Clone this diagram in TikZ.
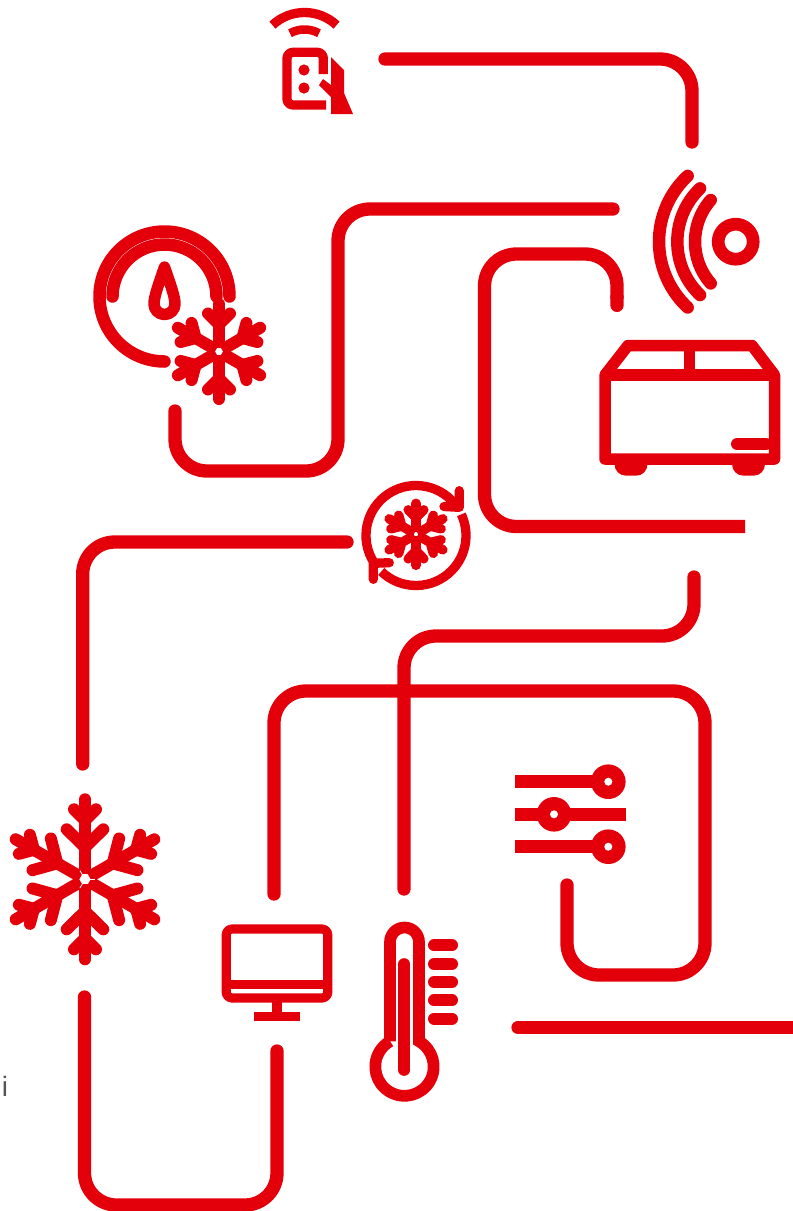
\documentclass[tikz,border=0pt]{standalone}
\usepackage{fontspec}
\setsansfont{Liberation Sans}
\usetikzlibrary{arrows.meta}
\definecolor{brandred}{HTML}{E3000B}
\definecolor{smallgrey}{HTML}{555555}
\tikzset{
  wire/.style={draw=brandred,line width=13.3pt,line cap=round,line join=round,rounded corners=32pt},
  wirecut/.style={draw=brandred,line width=13.3pt,line cap=butt,rounded corners=32pt,{Round Cap[]}-},
  icon/.style={draw=brandred,line width=#1,line cap=round,line join=round},
  iconflat/.style={draw=brandred,line width=#1,line cap=butt,line join=round},
  solidred/.style={fill=brandred,draw=none},
  holewhite/.style={fill=white,draw=none}
}
\newcommand{\flakeBig}[3]{%
  \foreach \ang in {0,60,...,300}{
    \begin{scope}[shift={(#1,#2)},rotate=\ang]
      \draw[iconflat=#3] (0,-5) -- (0,-74);
      \draw[icon=#3] (0,-58) -- (0,-80);
      \draw[icon=#3] (0,-59) -- (-11,-70);
      \draw[icon=#3] (0,-59) -- (11,-70);
      \draw[icon=#3] (0,-32) -- (-18.3,-50);
      \draw[icon=#3] (0,-32) -- (18.3,-50);
    \end{scope}}
  \foreach \ang in {30,150,270}{
    \begin{scope}[shift={(#1,#2)},rotate=\ang]
      \draw[white,line width=.8pt] (0,-5) -- (0,-10);
    \end{scope}}
}
\newcommand{\flakeOne}[8]{% x y hole tip brstart broff brR lw
  \foreach \ang in {0,60,...,300}{
    \begin{scope}[shift={(#1,#2)},rotate=\ang]
      \draw[iconflat=#8] (0,-#3) -- (0,-#5);
      \draw[icon=#8] (0,-#5) -- (0,-#4);
      \draw[icon=#8] (0,-#5) -- (-#6,-#7);
      \draw[icon=#8] (0,-#5) -- (#6,-#7);
    \end{scope}}
}
\begin{document}
\begin{tikzpicture}[x=1pt,y=-1pt]
\useasboundingbox (0,0) rectangle (793,1211);

% ---------- connector ends and corners
\coordinate (aS) at (385,59);   \coordinate (aE) at (692,142);
\coordinate (bS) at (613,209);  \coordinate (bC) at (338,471);  \coordinate (bE) at (175,411);
\coordinate (cS) at (617,312);  \coordinate (cC) at (484.5,254);  \coordinate (cE) at (745,526.5);
\coordinate (dS) at (694,577);  \coordinate (dE) at (404,889);
\coordinate (eS) at (274,894);  \coordinate (eC) at (705,691);  \coordinate (eD) at (567,975);  \coordinate (eE) at (567,885);
\coordinate (fS) at (347,542);  \coordinate (fE) at (82.7,764);
\coordinate (gS) at (84.5,997);   \coordinate (gC) at (277,1205); \coordinate (gE) at (277,1051);
\coordinate (hS) at (518,1027.5); \coordinate (hE) at (800,1027.5);

% ---------- connectors
\draw[wire] (aS) -| (aE);
\draw[wire] (bS) -| (bC) -| (bE);
\draw[wirecut] (cS) |- (cC) |- (cE);
\draw[wire] (dS) |- (404,636) -- (dE);
\draw[wire] (eS) |- (eC) |- (eD) -- (eE);
\draw[wire] (fS) -| (fE);
\draw[wire] (gS) |- (gC) -- (gE);
\draw[wire] (hS) -- (hE);

% ---------- remote control
\draw[iconflat=9.3pt,rounded corners=6pt] (323.3,74) -- (323.3,52.3) -- (287,52.3) -- (287,105) -- (326,105);
\fill[solidred] (304,70) circle[radius=5.6];
\fill[solidred] (304,88) circle[radius=5.6];
\fill[solidred] (331,57) -- (344,70) -- (344,93) -- (353,114) -- (331,114) -- (331,97) -- (319,85) -- (323,79) -- (331,85) -- cycle;
\draw[iconflat=9.3pt] (304.5,59.5) ++(-133:47) arc[start angle=-133,end angle=-47,radius=47];
\draw[iconflat=8.5pt] (304.5,59.5) ++(-119:30) arc[start angle=-119,end angle=-61,radius=30];

% ---------- gauge with drop and flake
\draw[icon=12.5pt] (164.5,296.5) ++(0:65) arc[start angle=0,end angle=-270,radius=65];
\draw[icon=12.5pt] (164.5,296.5) ++(180:52) arc[start angle=180,end angle=360,radius=52];
\draw[icon=11.5pt] (164.5,267) .. controls (159.5,282) and (154,296) .. (154,304) arc[start angle=180,end angle=0,radius=10.5] .. controls (175,296) and (169.5,282) .. (164.5,267) -- cycle;
\flakeOne{219}{351.5}{3.5}{47.5}{27}{11}{38}{12pt}

% ---------- transmitter waves
\draw[icon=12.7pt] (735.7,241.7) circle[radius=17.5];
\draw[icon=12.5pt] (748.8,241.7) ++(-132.9:89.8) arc[start angle=-132.9,end angle=-227.1,radius=89.8];
\draw[icon=12.5pt] (751.2,241.7) ++(-133.8:73.9) arc[start angle=-133.8,end angle=-226.2,radius=73.9];
\draw[icon=12.5pt] (758.2,241.7) ++(-138.7:63.2) arc[start angle=-138.7,end angle=-221.3,radius=63.2];

% ---------- box
\draw[icon=11.5pt] (605,375) -- (628,345.5) -- (752,345.5) -- (774.5,375) -- (774.5,459) -- (605,459) -- cycle;
\draw[iconflat=11.5pt] (605,375) -- (774.5,375);
\draw[iconflat=11pt] (689.7,345.5) -- (689.7,375);
\draw[icon=12pt] (737,444) -- (766,444);
\fill[solidred] (614.5,462) -- (647.5,462) -- (647.5,464) .. controls (647.5,471) and (642,475.5) .. (637,475.5) -- (625,475.5) .. controls (620,475.5) and (614.5,471) .. (614.5,464) -- cycle;
\fill[solidred] (732,462) -- (765,462) -- (765,464) .. controls (765,471) and (759.5,475.5) .. (754.5,475.5) -- (742.5,475.5) .. controls (737.5,475.5) and (732,471) .. (732,464) -- cycle;

% ---------- cycle flake
\draw[iconflat=9.3pt] (416,535.5) ++(-33:50) arc[start angle=-33,end angle=-213,radius=50];
\draw[iconflat=9.3pt] (416,535.5) ++(134:50) arc[start angle=134,end angle=-25,radius=50];
\draw[icon=9.3pt] (459.3,490.7) -- (459.3,507.3) -- (444,506.5);
\draw[icon=9.3pt] (373.3,579.3) -- (373.3,563.3) -- (389.3,562.7);
\flakeOne{416}{534.3}{2}{31}{16.5}{7.8}{24.5}{9.5pt}

% ---------- big flake
\flakeBig{85}{879.3}{12pt}

% ---------- monitor
\draw[iconflat=9.2pt,rounded corners=6pt] (226.2,929) rectangle (327.8,998);
\draw[iconflat=9.3pt] (226.2,984.3) -- (327.8,984.3);
\draw[iconflat=9.5pt] (277,998) -- (277,1015);
\fill[solidred] (254,1012) rectangle (300,1021.3);

% ---------- thermometer
\draw[iconflat=11.7pt,line join=miter] (390,1041.3) -- (390,942) arc[start angle=180,end angle=360,radius=14.5] -- (419,1041.3) arc[start angle=-60.2,end angle=240.2,radius=29.2];
\draw[icon=11.7pt] (404.3,964) -- (404.3,1070);
\foreach \ty in {945.3,964,982,1000.3,1018.7}{
  \draw[icon=12pt] (434,\ty) -- (452,\ty);
}

% ---------- sliders
\draw[iconflat=13pt] (515,781.7) -- (609,781.7);
\draw[iconflat=13pt] (515,814.3) -- (625.7,814.3);
\draw[iconflat=13pt] (515,846.7) -- (609,846.7);
\foreach \kx/\ky in {608.3/781.7,554/814.3,608.3/846.7}{
  \fill[solidred] (\kx,\ky) circle[radius=17.3];
  \fill[holewhite] (\kx,\ky) circle[radius=4];
}

% ---------- stray letter
\node[anchor=base,inner sep=0pt,text=smallgrey,font=\sffamily\fontsize{28}{28}\selectfont] (stray) at (5,1096) {i};
\end{tikzpicture}
\end{document}
